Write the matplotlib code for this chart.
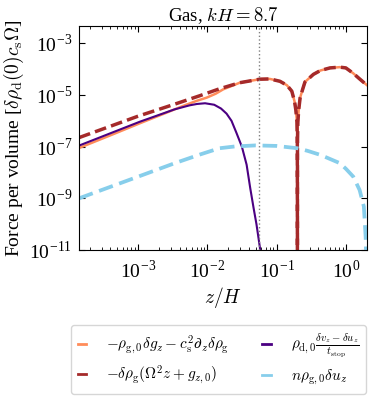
import matplotlib
matplotlib.use("Agg")
import matplotlib.pyplot as plt
from matplotlib.ticker import FuncFormatter, LogLocator, NullLocator, FixedLocator
import numpy as np

plt.rcParams["font.family"] = ["Liberation Serif", "DejaVu Serif"]
plt.rcParams["mathtext.fontset"] = "cm"

# pressure + gravity term (solid orange)
z_press = [1.41e-4, 4.0e-4, 1.07e-3, 2.5e-3, 4.5e-3, 7.1e-3, 9.8e-3, 1.32e-2, 1.7e-2,
           2.95e-2, 5.75e-2, 8.0e-2, 0.112, 0.141, 0.166, 0.182, 0.19, 0.197, 0.1995, 0.2,
           0.2005, 0.203, 0.209, 0.219, 0.24, 0.257, 0.34, 0.43, 0.59, 0.82, 1.0, 1.28,
           1.58, 2.0]
f_press = [8.9e-8, 2.75e-7, 8.1e-7, 2.0e-6, 3.8e-6, 6.0e-6, 7.9e-6, 1.12e-5, 1.66e-5,
           3.0e-5, 4.1e-5, 4.2e-5, 3.4e-5, 2.4e-5, 1.41e-5, 5.6e-6, 2.6e-6, 9e-7, 1.5e-7, 1e-12,
           1.5e-7, 9e-7, 2.7e-6, 7.9e-6, 1.78e-5, 3.2e-5, 6.3e-5, 8.9e-5, 1.12e-4, 1.2e-4, 1.12e-4,
           6.9e-5, 4.2e-5, 2.45e-5]

# buoyancy term (dark red dashed)
z_buoy = [1.41e-4, 1.0e-3, 3.2e-3, 7.9e-3, 1.5e-2, 2.95e-2, 5.75e-2, 8.0e-2, 0.112,
          0.141, 0.166, 0.182, 0.19, 0.197, 0.1995, 0.2, 0.2005, 0.203, 0.209, 0.219,
          0.24, 0.257, 0.34, 0.43, 0.59, 0.82, 1.0, 1.28, 1.58, 2.0]
f_buoy = [2.24e-7, 1.51e-6, 4.2e-6, 9.5e-6, 1.74e-5, 3.0e-5, 4.1e-5, 4.2e-5, 3.4e-5,
          2.4e-5, 1.41e-5, 5.6e-6, 2.6e-6, 9e-7, 1.5e-7, 1e-12, 1.5e-7, 9e-7, 2.7e-6, 7.9e-6,
          1.78e-5, 3.2e-5, 6.3e-5, 8.9e-5, 1.12e-4, 1.2e-4, 1.12e-4, 6.9e-5, 4.2e-5, 2.45e-5]

# drag term (purple)
z_drag = [1.41e-4, 4.0e-4, 1.07e-3, 3.4e-3, 5.6e-3, 7.1e-3, 9.3e-3, 1.26e-2, 1.58e-2,
          1.9e-2, 2.24e-2, 2.63e-2, 3.16e-2, 3.7e-2, 4.17e-2, 4.68e-2, 5.13e-2, 5.75e-2, 6.0e-2]
f_drag = [1.1e-7, 3.3e-7, 9.3e-7, 2.8e-6, 4.0e-6, 4.5e-6, 4.8e-6, 4.2e-6, 3.0e-6,
          1.9e-6, 1.0e-6, 3.5e-7, 1.0e-7, 2.0e-8, 2.5e-9, 4.0e-10, 1.0e-10, 1.26e-11, 3.2e-12]

# advection term (light blue dashed)
z_adv = [1.41e-4, 6.5e-4, 3.4e-3, 7.9e-3, 1.5e-2, 2.5e-2, 5.0e-2, 0.1, 0.2, 0.28,
         0.43, 0.82, 1.0, 1.28, 1.58, 1.82, 1.93, 2.0]
f_adv = [1.0e-9, 4.5e-9, 2.3e-8, 5.0e-8, 8.7e-8, 1.02e-7, 1.12e-7, 1.07e-7, 8.7e-8, 6.9e-8,
         4.8e-8, 2.3e-8, 1.4e-8, 6.9e-9, 2.1e-9, 4.8e-10, 3.2e-11, 1e-12]

z_mark = 0.056

labels = [r"$-\rho_{\rm g,0}\delta g_z - c_{\rm s}^2\partial_z\delta\rho_{\rm g}$",
          r"$-\delta\rho_{\rm g}(\Omega^2 z + g_{z,0})$",
          r"$\rho_{\rm d,0}\frac{\delta v_z - \delta u_z}{t_{\rm stop}}$",
          r"$n\rho_{\rm g,0}\delta u_z$"]

fig = plt.figure(figsize=(3.74, 4.0), dpi=100)
ax = fig.add_axes([0.2112, 0.375, 0.7693, 0.56])

ax.loglog(z_press, f_press, color="#ff8c5a", lw=1.8, label=labels[0])
ax.loglog(z_buoy, f_buoy, color="#a52a2a", lw=2.5, ls=(0, (3.4, 1.5)), label=labels[1])
ax.loglog(z_drag, f_drag, color="#4b0082", lw=1.5, label=labels[2])
ax.loglog(z_adv, f_adv, color="#87ceeb", lw=2.7, ls=(0, (3.9, 1.8)), label=labels[3])
ax.axvline(z_mark, color="gray", ls=":", lw=1)

ax.set_xlim(1.41e-4, 2.0)
ax.set_ylim(1e-11, 4.7e-3)
ax.yaxis.set_major_locator(FixedLocator([1e-11, 1e-9, 1e-7, 1e-5, 1e-3]))
ax.yaxis.set_minor_locator(NullLocator())
ax.xaxis.set_major_locator(LogLocator(base=10, numticks=10))
ax.xaxis.set_minor_locator(LogLocator(base=10, subs=np.arange(2, 10), numticks=20))

fmt = FuncFormatter(lambda v, p: r"10$^{\mathregular{%d}}$" % round(np.log10(v)))
ax.xaxis.set_major_formatter(fmt)
ax.yaxis.set_major_formatter(fmt)
ax.tick_params(which="both", direction="in", top=True, right=True, labelsize=14)
ax.tick_params(which="major", length=4)
ax.tick_params(which="minor", length=2)
ax.tick_params(axis="x", pad=7)
ax.tick_params(axis="y", pad=5)

ax.set_title(r"Gas, $kH = 8.7$", fontsize=13.5, pad=3)
ax.set_xlabel(r"$z/H$", fontsize=14, labelpad=2)
ax.set_ylabel(r"Force per volume [$\delta\rho_{\rm d}(0)c_{\rm s}\Omega$]", fontsize=14, labelpad=2)

leg = fig.legend(loc="upper right", bbox_to_anchor=(0.978, 0.188), ncol=2, fontsize=11,
                 handlelength=0.55, columnspacing=2.2, handletextpad=1.3, labelspacing=0.5,
                 borderaxespad=0, borderpad=0.45)
for h in leg.legend_handles:
    h.set_linestyle("-")
    h.set_linewidth(2.0)

fig.savefig("out.png", dpi=100)
